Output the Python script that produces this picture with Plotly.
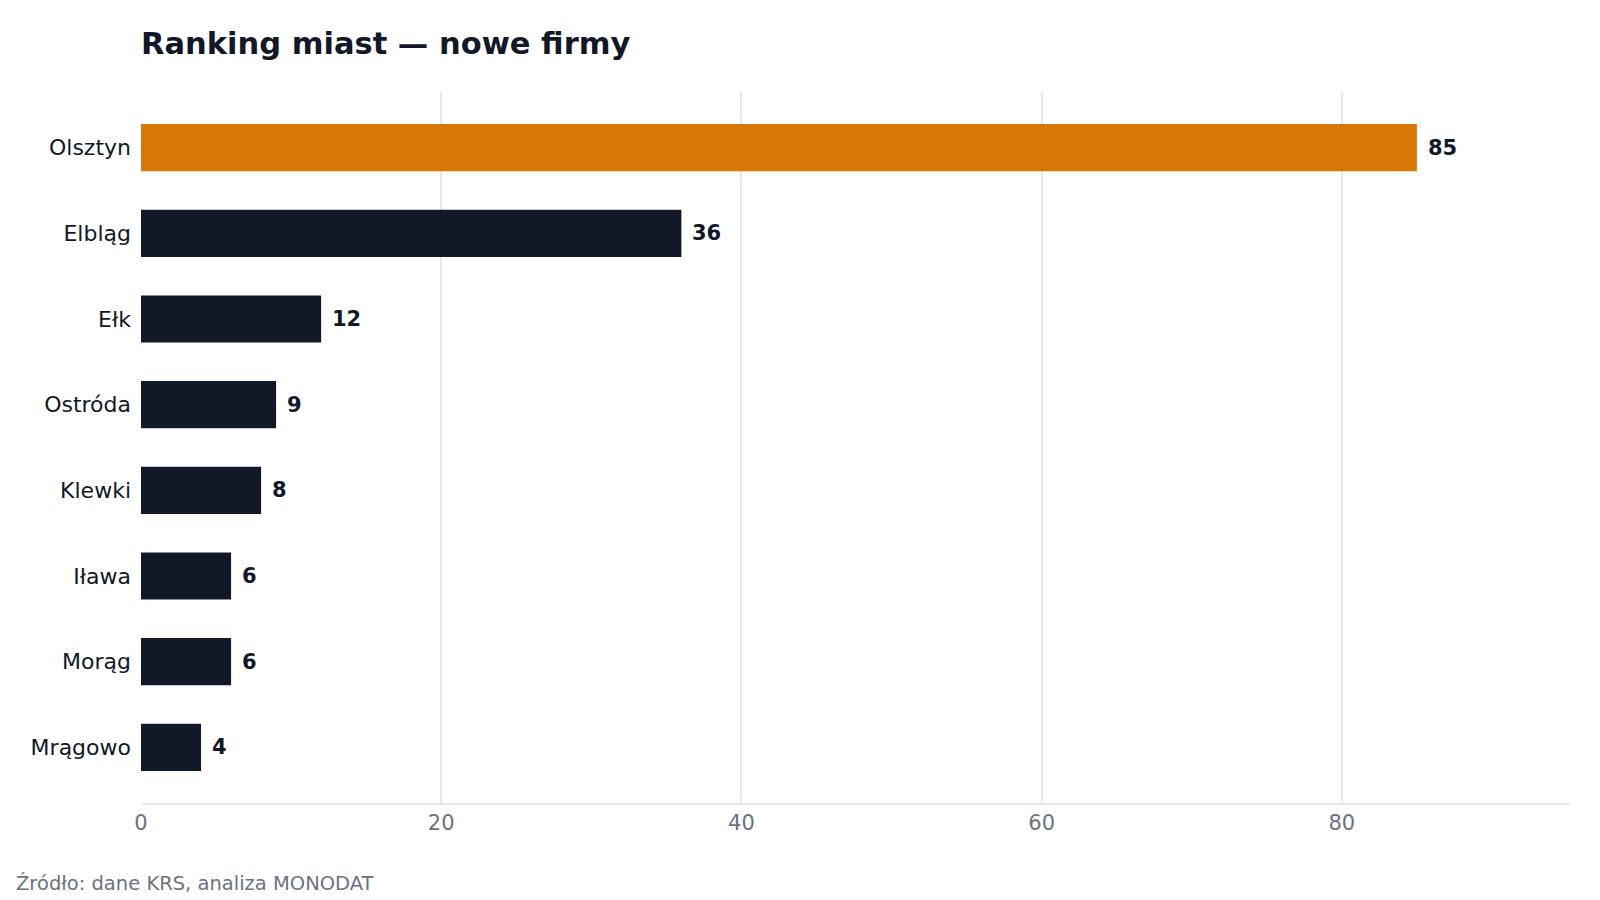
import plotly.graph_objects as go

cities = ["Olsztyn", "Elbląg", "Ełk", "Ostróda", "Klewki", "Iława", "Morąg", "Mrągowo"]
values = [85, 36, 12, 9, 8, 6, 6, 4]
highlight = "Olsztyn"
x_ticks = [0, 20, 40, 60, 80]

ORANGE = "#D97706"
DARK = "#111827"
GRID = "#E5E7EB"
GRAY = "#6B7280"
FONT = "DejaVu Sans"

W, H = 1600, 900
ML, MR, MT, MB = 133, 38, 84, 105
PW, PH = W - ML - MR, H - MT - MB

colors = [ORANGE if c == highlight else DARK for c in cities]

fig = go.Figure(go.Bar(
    x=values, y=cities, orientation="h",
    marker=dict(color=colors, line=dict(width=0)),
    width=0.55, hoverinfo="skip",
))

for c, v in zip(cities, values):
    fig.add_annotation(x=v, y=c, text=f"<b>{v}</b>", showarrow=False,
                       xanchor="left", yanchor="middle", xshift=9,
                       font=dict(family=FONT, size=21, color=DARK))

fig.update_layout(
    width=W, height=H,
    margin=dict(l=ML, r=MR, t=MT, b=MB),
    paper_bgcolor="white", plot_bgcolor="white",
    showlegend=False,
    font=dict(family=FONT, color=DARK),
    title=dict(text="<b>Ranking miast — nowe firmy</b>", x=ML / W, xanchor="left",
               y=1 - 35 / H, yanchor="middle",
               font=dict(family=FONT, size=30.5, color=DARK)),
    xaxis=dict(range=[0, 95.2], tickvals=x_ticks, showgrid=True, gridcolor=GRID, gridwidth=2,
               zeroline=False, showline=True, linecolor=GRID, linewidth=2,
               ticks="", tickfont=dict(family=FONT, size=21, color=GRAY), ticklabelstandoff=0),
    yaxis=dict(categoryorder="array", categoryarray=cities, range=[7.65, -0.65],
               showgrid=False, zeroline=False, showline=False, ticks="",
               ticklabelstandoff=9, tickfont=dict(family=FONT, size=22, color=DARK)),
)

fig.add_annotation(xref="paper", yref="paper", x=(6 - ML) / PW, y=-(875 - (H - MB)) / PH,
                   text="Źródło: dane KRS, analiza MONODAT", showarrow=False,
                   xanchor="left", yanchor="middle",
                   font=dict(family=FONT, size=19.5, color=GRAY))

fig.write_html("out.html")
